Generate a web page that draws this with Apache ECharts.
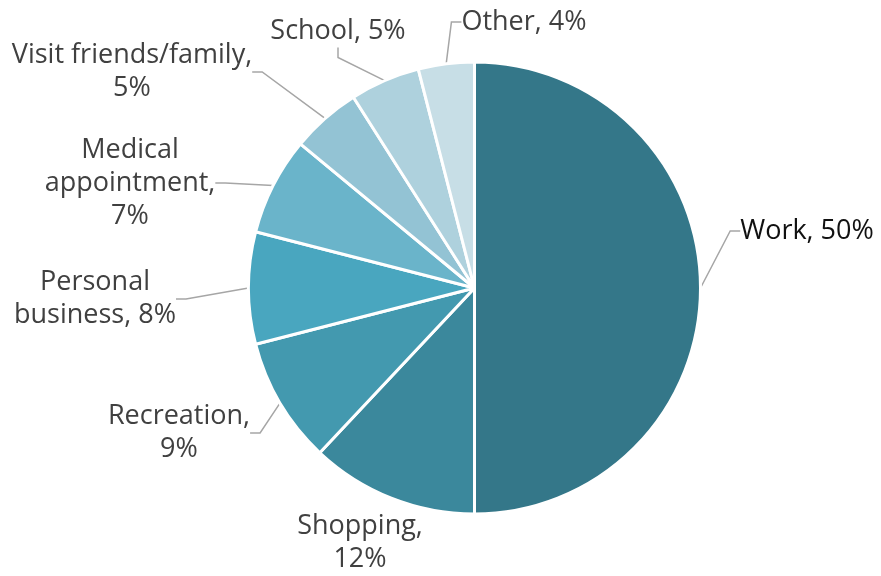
<!DOCTYPE html>
<html>
<head>
<meta charset="utf-8">
<script src="https://cdn.jsdelivr.net/npm/echarts@6/dist/echarts.min.js"></script>
<style>
html,body{margin:0;padding:0;background:#fff;}
#main{width:881px;height:576px;}
</style>
</head>
<body>
<div id="main"></div>
<script>
var categories = ['Work', 'Shopping', 'Recreation', 'Personal business', 'Medical appointment', 'Visit friends/family', 'School', 'Other'];
var shares = [50, 12, 9, 8, 7, 5, 5, 4];
var labelTexts = ['Work, 50%', 'Shopping,\n12%', 'Recreation,\n9%', 'Personal\nbusiness, 8%', 'Medical\nappointment,\n7%', 'Visit friends/family,\n5%', 'School, 5%', 'Other, 4%'];
var colors = ['#347789', '#3b889c', '#4399af', '#49a6bf', '#6ab4ca', '#93c3d4', '#aed1dd', '#c7dee6'];

// where each label sits (text centre), excel-like
var labelPos = [
  [807, 231], [360, 543], [179, 433], [95, 299],
  [130, 183], [132, 72], [338, 31], [524, 22]
];

var myChart = echarts.init(document.getElementById('main'));

var data = [];
for (var i = 0; i < categories.length; i++) {
  data.push({
    name: categories[i],
    value: shares[i],
    itemStyle: {color: colors[i]},
    label: {formatter: labelTexts[i], color: i === 0 ? '#111' : '#404040'},
    labelLine: {show: i !== 1}   // shopping label sits right under its slice, no leader
  });
}

var option = {
  animation: false,
  series: [{
    type: 'pie',
    center: [474.5, 288],
    radius: [0, 226],
    startAngle: 90,
    clockwise: true,
    itemStyle: {borderColor: '#fff', borderWidth: 3},
    label: {
      show: true,
      position: 'outside',
      fontFamily: 'Open Sans',
      fontSize: 27,
      lineHeight: 33,
      align: 'center'
    },
    labelLine: {
      show: true,
      length: 10,
      length2: 10,
      lineStyle: {color: '#a6a6a6', width: 1.5}
    },
    labelLayout: function (params) {
      var p = labelPos[params.dataIndex];
      return {x: p[0], y: p[1], align: 'center', verticalAlign: 'middle'};
    },
    data: data
  }]
};
myChart.setOption(option);
</script>
</body>
</html>
